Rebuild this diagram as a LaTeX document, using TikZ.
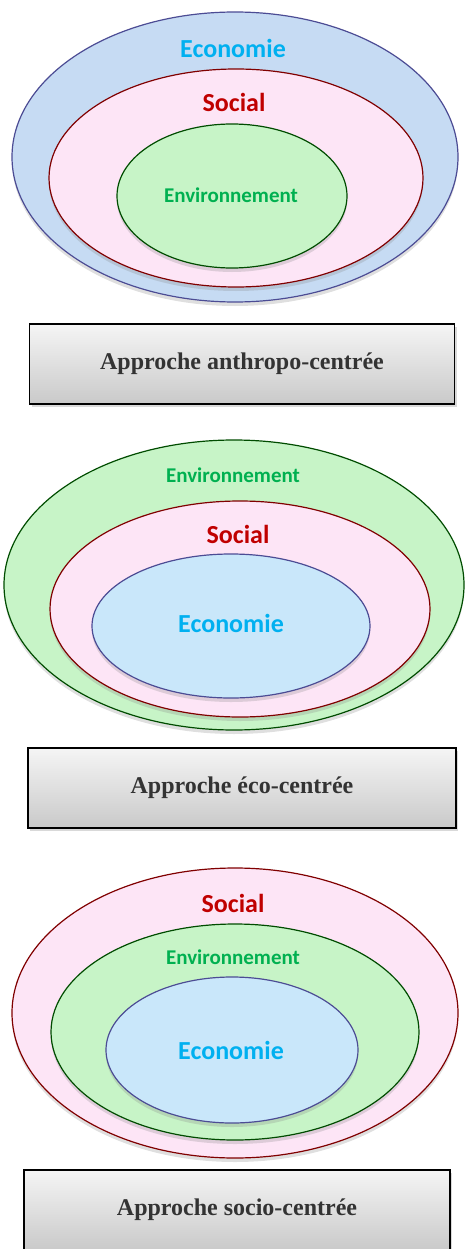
\documentclass[tikz,border=0pt]{standalone}
\usepackage{fontspec}
\setmainfont{Liberation Serif}
\newfontfamily\labfont{Carlito}
\usepackage{tikz}
\usetikzlibrary{shadows}

\definecolor{ecotxt}{HTML}{00B0F0}
\definecolor{soctxt}{HTML}{C00000}
\definecolor{envtxt}{HTML}{00B050}
\definecolor{ecofill}{HTML}{C6DBF3}
\definecolor{ecofillb}{HTML}{C9E7FA}
\definecolor{socfill}{HTML}{FDE5F6}
\definecolor{envfill}{HTML}{C7F4C7}

\begin{document}
\begin{tikzpicture}[x=1pt,y=-1pt,
  ring/.style={line width=1.2pt, drop shadow={shadow xshift=0pt,shadow yshift=-4pt,opacity=0.25}},
  ecoring/.style={ring,fill=ecofill,draw=black!60!blue!70},
  ecoringb/.style={ring,fill=ecofillb,draw=black!60!blue!70},
  socring/.style={ring,fill=socfill,draw=red!50!black},
  envring/.style={ring,fill=envfill,draw=green!30!black},
  big/.style={font=\labfont\bfseries\fontsize{26}{28}\selectfont},
  small/.style={font=\labfont\bfseries\fontsize{21}{23}\selectfont},
  approche/.style={draw=black,line width=1.5pt,top color=gray!8,bottom color=gray!42,
    minimum width=425pt,minimum height=80pt,text=black!80,
    font=\bfseries\fontsize{24}{26}\selectfont,
    drop shadow={shadow xshift=2pt,shadow yshift=-3pt,opacity=0.3}}]
\useasboundingbox (0,0) rectangle (466,1249);

\path[ecoring] (235,157) ellipse [x radius=223,y radius=145];
\path[socring] (236,178) ellipse [x radius=187,y radius=109];
\path[envring] (232,196) ellipse [x radius=115,y radius=72];
\node[big,text=ecotxt] (eco1) at (233,48) {Economie};
\node[big,text=soctxt] (soc1) at (234,102) {Social};
\node[small,text=envtxt] (env1) at (231,195) {Environnement};
\node[approche] (app1) at (242,364) {Approche anthropo-centrée};

\path[envring] (234,585) ellipse [x radius=230,y radius=145];
\path[socring] (240,609) ellipse [x radius=190,y radius=108];
\path[ecoringb] (231,626) ellipse [x radius=139,y radius=72];
\node[small,text=envtxt] (env2) at (233,475) {Environnement};
\node[big,text=soctxt] (soc2) at (238,534) {Social};
\node[big,text=ecotxt] (eco2) at (231,623) {Economie};
\node[approche,minimum width=428pt] (app2) at (242,788) {Approche éco-centrée};

\path[socring] (235,1013) ellipse [x radius=223,y radius=145];
\path[envring] (235,1032) ellipse [x radius=184,y radius=108];
\path[ecoringb] (232,1050) ellipse [x radius=126,y radius=73];
\node[big,text=soctxt] (soc3) at (233,903) {Social};
\node[small,text=envtxt] (env3) at (233,957) {Environnement};
\node[big,text=ecotxt] (eco3) at (231,1050) {Economie};
\node[approche,minimum width=426pt] (app3) at (237,1210) {Approche socio-centrée};
\end{tikzpicture}
\end{document}
